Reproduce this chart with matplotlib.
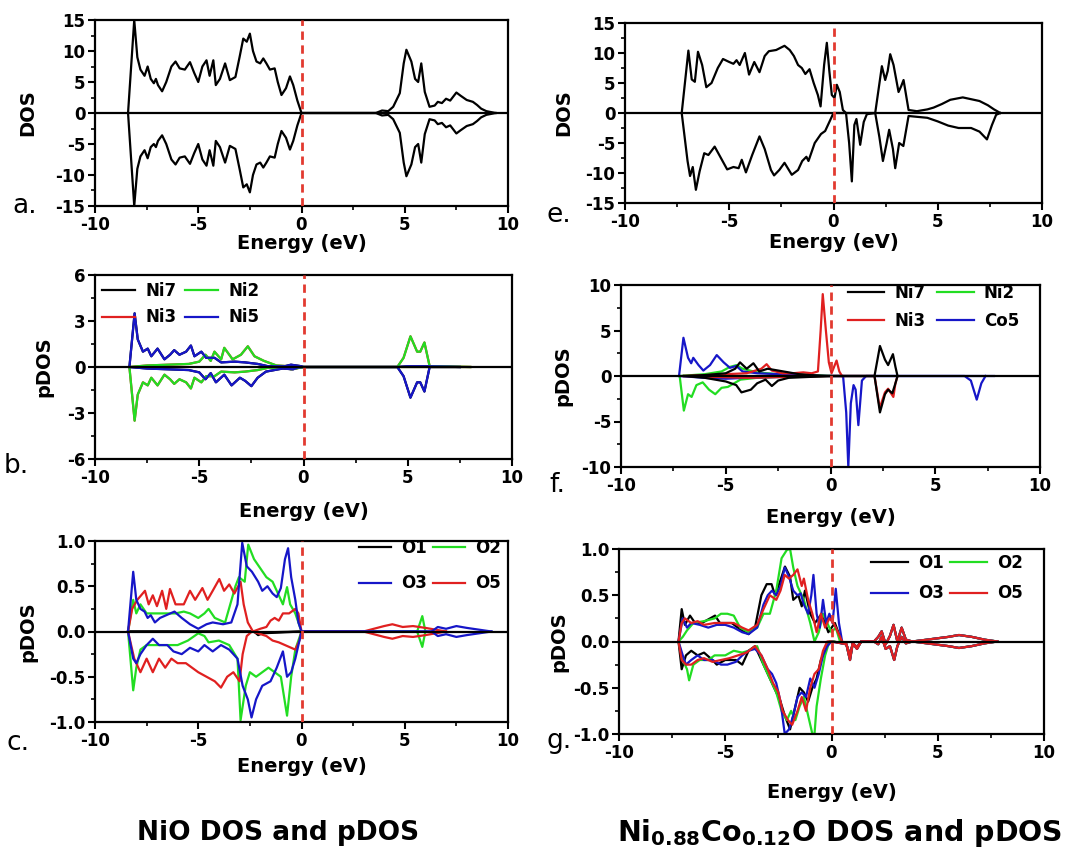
import matplotlib
matplotlib.use("Agg")
import matplotlib.pyplot as plt
import numpy as np
from matplotlib.ticker import MultipleLocator, FormatStrFormatter

plt.rcParams["font.family"] = "DejaVu Sans"
plt.rcParams["font.weight"] = "bold"
plt.rcParams["axes.labelweight"] = "bold"
plt.rcParams["axes.unicode_minus"] = False
plt.rcParams["mathtext.fontset"] = "custom"
plt.rcParams["mathtext.bf"] = "DejaVu Sans:bold"
plt.rcParams["mathtext.default"] = "bf"

GREEN = "#22dd22"
BLUE = "#1616c8"
RED = "#e02020"
BLACK = "black"

# ---- panel a: NiO total DOS (energy, DOS) ----
a_up = [(-8.4, 0), (-8.1, 15), (-7.95, 9), (-7.8, 7), (-7.6, 6), (-7.45, 7.5), (-7.3, 5.5),
        (-7.15, 4.8), (-7.05, 5.5), (-6.95, 4.5), (-6.75, 3.5), (-6.55, 5), (-6.3, 7.5),
        (-6.1, 8.3), (-5.9, 7.2), (-5.65, 7), (-5.4, 8.2), (-5.2, 6.5), (-5.0, 5), (-4.8, 7.5),
        (-4.6, 8.5), (-4.45, 6), (-4.27, 8.5), (-4.15, 4.5), (-3.95, 5.5), (-3.7, 8), (-3.47, 5.3),
        (-3.2, 5.8), (-3.0, 9), (-2.82, 12), (-2.65, 11.5), (-2.5, 12.8), (-2.35, 10), (-2.18, 8.3),
        (-2.0, 8), (-1.85, 8.8), (-1.7, 8), (-1.53, 7), (-1.3, 7.2), (-1.15, 5), (-0.97, 2.9),
        (-0.75, 4), (-0.56, 5.9), (-0.4, 4.5), (-0.2, 2), (0.0, 0), (3.6, 0), (3.9, 0.4), (4.2, 0.3),
        (4.44, 1.0), (4.76, 3.2), (4.95, 8), (5.08, 10.2), (5.32, 8.3), (5.5, 5.5), (5.65, 5),
        (5.8, 8), (5.97, 3.4), (6.2, 1), (6.45, 1.2), (6.6, 1.8), (6.8, 1.6), (7.0, 2.3), (7.2, 2.0),
        (7.5, 3.3), (7.7, 2.8), (8.0, 2.1), (8.3, 1.8), (8.5, 1.3), (8.7, 0.7), (8.95, 0.3), (9.4, 0)]
a_dn = [(-8.4, 0), (-8.1, -15), (-7.95, -9), (-7.8, -7), (-7.6, -6), (-7.45, -7.3), (-7.3, -5.5),
        (-7.15, -5), (-7.05, -5.5), (-6.95, -4.5), (-6.75, -3.6), (-6.55, -5), (-6.3, -7.5),
        (-6.1, -8.3), (-5.9, -7.2), (-5.65, -7), (-5.4, -8.2), (-5.2, -6.5), (-5.0, -5), (-4.8, -7.5),
        (-4.6, -8.5), (-4.45, -6), (-4.27, -8.5), (-4.15, -4.5), (-3.95, -5.5), (-3.7, -8),
        (-3.47, -5.3), (-3.2, -5.8), (-3.0, -9), (-2.82, -12), (-2.65, -11.5), (-2.5, -12.8),
        (-2.35, -10), (-2.18, -8.3), (-2.0, -8), (-1.85, -8.8), (-1.7, -8), (-1.53, -7), (-1.3, -7.2),
        (-1.15, -5), (-0.97, -2.9), (-0.75, -4), (-0.56, -5.9), (-0.4, -4.5), (-0.2, -2), (0.0, 0),
        (3.6, 0), (3.9, -0.4), (4.2, -0.3), (4.44, -1.0), (4.76, -3.2), (4.95, -8), (5.08, -10.2),
        (5.32, -8.3), (5.5, -5.5), (5.65, -5), (5.8, -8), (5.97, -3.4), (6.2, -1), (6.45, -1.2),
        (6.6, -1.8), (6.8, -1.6), (7.0, -2.3), (7.2, -2.0), (7.5, -3.3), (7.7, -2.8), (8.0, -2.1),
        (8.3, -1.8), (8.5, -1.3), (8.7, -0.7), (8.95, -0.3), (9.4, 0)]

# ---- panel e: Ni0.88Co0.12O total DOS ----
e_up = [(-7.28, 0), (-6.96, 10.4), (-6.8, 5.6), (-6.65, 5.2), (-6.5, 10.2), (-6.3, 8), (-6.1, 4.3),
        (-5.85, 5), (-5.55, 7.5), (-5.3, 9), (-5.0, 8.5), (-4.8, 8.2), (-4.65, 8.8), (-4.5, 8),
        (-4.25, 10), (-4.05, 6.4), (-3.8, 8.5), (-3.55, 6.8), (-3.3, 9.5), (-3.1, 10.3), (-2.75, 10.5),
        (-2.35, 11.2), (-2.1, 10.5), (-1.9, 9.5), (-1.7, 8), (-1.52, 7.5), (-1.35, 6.5), (-1.15, 7.3),
        (-0.95, 5), (-0.75, 3), (-0.62, 1.1), (-0.45, 8), (-0.32, 11.7), (-0.2, 7), (-0.08, 3),
        (0.05, 2.5), (0.16, 4.7), (0.3, 3.5), (0.45, 0.5), (0.6, 0), (2.0, 0), (2.32, 7.8),
        (2.48, 5.5), (2.6, 7), (2.72, 9.8), (2.88, 8), (3.12, 3.5), (3.25, 4.5), (3.36, 5.5),
        (3.6, 0.5), (4.0, 0.3), (4.5, 0.6), (4.8, 0.9), (5.2, 1.5), (5.6, 2.2), (6.2, 2.6),
        (6.6, 2.3), (7.0, 2.0), (7.4, 1.3), (7.7, 0.6), (8.0, 0)]
e_dn = [(-7.28, 0), (-7.0, -8), (-6.88, -10.5), (-6.75, -9), (-6.6, -12.8), (-6.42, -9.7),
        (-6.2, -6.7), (-6.0, -7), (-5.7, -5.6), (-5.4, -7.5), (-5.1, -9.4), (-4.8, -9), (-4.55, -9.2),
        (-4.4, -7.8), (-4.2, -9.9), (-3.9, -7), (-3.55, -3.9), (-3.3, -6), (-3.0, -9.5), (-2.85, -10.4),
        (-2.6, -9.5), (-2.35, -8.3), (-2.0, -10.3), (-1.7, -9.5), (-1.5, -8), (-1.3, -7.3), (-1.2, -8),
        (-0.9, -5), (-0.6, -3.5), (-0.4, -3), (-0.2, -1.5), (0.0, 0), (0.6, 0), (0.75, -5),
        (0.88, -11.4), (1.0, -2), (1.1, -1), (1.28, -5.3), (1.45, -1.5), (1.6, -0.2), (2.0, 0),
        (2.2, -4), (2.37, -8), (2.55, -5), (2.67, -2.8), (2.85, -6), (2.96, -9.2), (3.15, -5),
        (3.35, -5.5), (3.6, -0.5), (4.5, -0.8), (5.0, -1.4), (5.5, -2.1), (6.0, -2.5), (6.6, -2.5),
        (7.0, -3.1), (7.36, -4.4), (7.6, -2), (7.8, -0.3), (8.0, 0)]

# ---- panel b: NiO Ni pDOS ----
b_ni5_up = [(-8.35, 0), (-8.1, 3.5), (-7.95, 1.8), (-7.7, 1.0), (-7.47, 1.2), (-7.3, 0.7), (-7.0, 1.2),
            (-6.67, 0.5), (-6.4, 0.8), (-6.2, 1.1), (-5.95, 0.8), (-5.63, 1.0), (-5.4, 1.4),
            (-5.23, 0.7), (-4.9, 1.0), (-4.67, 0.6), (-4.27, 0.6), (-3.95, 0.3), (-3.3, 0.35),
            (-2.8, 0.3), (-2.2, 0.2), (-1.7, 0.05), (-0.9, 0.05), (-0.6, 0.15), (-0.1, 0.05),
            (0.0, 0), (4.5, 0), (5.0, 0.05), (6.0, 0.05), (7.5, 0)]
b_ni5_dn = [(-8.35, 0), (-7.5, -0.1), (-6.5, -0.15), (-5.5, -0.2), (-5.0, -0.35), (-4.7, -0.8),
            (-4.45, -0.4), (-4.2, -1.0), (-3.8, -0.5), (-3.45, -1.2), (-3.05, -0.7), (-2.8, -0.9),
            (-2.5, -1.25), (-2.2, -0.7), (-1.8, -0.3), (-1.0, -0.1), (-0.5, -0.15), (-0.3, -0.05),
            (0.0, 0), (4.5, 0), (4.8, -0.6), (5.13, -2.0), (5.45, -1.0), (5.6, -1.0), (5.8, -1.6),
            (6.05, 0), (7.5, 0)]
b_ni2_up = [(-8.35, 0), (-7.5, 0.1), (-6.5, 0.15), (-5.5, 0.2), (-5.0, 0.35), (-4.7, 0.8),
            (-4.45, 0.4), (-4.27, 1.0), (-3.95, 0.5), (-3.8, 1.25), (-3.4, 0.5), (-3.0, 0.8),
            (-2.67, 1.35), (-2.35, 0.7), (-1.9, 0.4), (-1.3, 0.1), (-0.7, 0.05), (-0.4, -0.1),
            (0.0, 0), (4.5, 0), (4.8, 0.6), (5.13, 2.0), (5.45, 1.0), (5.6, 1.0), (5.8, 1.6),
            (6.05, 0.05), (7.0, 0.03), (8.0, 0)]
b_ni2_dn = [(-8.35, 0), (-8.1, -3.5), (-7.95, -1.8), (-7.7, -1.0), (-7.47, -1.2), (-7.3, -0.7),
            (-7.0, -1.2), (-6.67, -0.5), (-6.4, -0.8), (-6.2, -1.1), (-5.95, -0.8), (-5.63, -1.0),
            (-5.4, -1.4), (-5.23, -0.7), (-4.9, -1.0), (-4.67, -0.6), (-4.27, -0.6), (-3.95, -0.3),
            (-3.3, -0.35), (-2.8, -0.3), (-2.2, -0.2), (-1.7, -0.05), (-0.9, -0.05), (-0.6, -0.15),
            (0.0, 0), (8.0, 0)]

# ---- panel f: Ni0.88Co0.12O metal pDOS ----
f_co5_up = [(-7.23, 0), (-7.02, 4.2), (-6.8, 2.0), (-6.65, 1.4), (-6.55, 2.0), (-6.3, 1.2),
            (-6.07, 0.6), (-5.75, 1.2), (-5.43, 2.3), (-5.1, 1.5), (-4.8, 0.9), (-4.5, 1.1),
            (-4.2, 0.5), (-3.5, 0.3), (-2.5, 0.2), (-1.0, 0.1), (-0.5, 0), (7.8, 0)]
f_co5_dn = [(-7.23, 0), (-6.0, -0.2), (-5.0, -0.3), (-4.0, -0.2), (-0.5, 0), (0.6, 0), (0.75, -4),
            (0.85, -10), (0.97, -3), (1.1, -1), (1.2, -1.5), (1.33, -5.4), (1.5, -0.5), (1.7, 0),
            (6.4, 0), (6.7, -0.5), (6.98, -2.6), (7.2, -0.8), (7.4, 0)]
f_ni2_up = [(-7.2, 0), (-6.0, 0.2), (-5.2, 0.5), (-4.8, 1.0), (-4.48, 1.2), (-4.2, 0.8), (-3.5, 0.4),
            (-2.5, 0.2), (-1.5, 0.2), (-1.0, 0.1), (0.0, 0)]
f_ni2_dn = [(-7.2, 0), (-7.0, -3.8), (-6.8, -2.0), (-6.63, -2.3), (-6.4, -1.0), (-6.1, -0.7),
            (-5.8, -1.5), (-5.5, -2.0), (-5.2, -1.3), (-4.9, -1.2), (-4.6, -0.8), (-4.3, -0.4),
            (-3.5, -0.2), (-2.5, -0.1), (-1.0, -0.05), (0.0, 0)]
f_ni3_up = [(-7.0, 0), (-5.0, 0.2), (-4.0, 0.3), (-3.3, 0.8), (-3.05, 1.3), (-2.8, 0.6), (-2.3, 0.3),
            (-1.8, 0.3), (-1.3, 0.4), (-0.9, 0.3), (-0.6, 0.5), (-0.47, 5), (-0.37, 9.0),
            (-0.22, 5), (-0.08, 1.5), (0.05, 0.3), (0.29, 1.7), (0.42, 0.5), (0.55, 0)]
f_ni3_dn = [(-7.0, 0), (-4.0, -0.2), (-2.0, -0.1), (0.0, 0), (2.1, 0), (2.35, -3.5), (2.6, -1.8),
            (2.75, -1.4), (3.0, -2.3), (3.1, -0.8), (3.2, 0)]
f_ni7_up = [(-7.0, 0), (-6.0, 0.1), (-5.0, 0.3), (-4.55, 0.8), (-4.32, 1.5), (-4.0, 0.8),
            (-3.68, 1.4), (-3.4, 0.5), (-3.0, 0.8), (-2.5, 0.6), (-2.0, 0.4), (-1.5, 0.2),
            (-1.0, 0.1), (0.0, 0), (2.1, 0), (2.36, 3.3), (2.6, 1.8), (2.75, 1.2), (2.98, 2.4),
            (3.1, 1.0), (3.2, 0)]
f_ni7_dn = [(-7.0, 0), (-6.0, -0.2), (-5.0, -0.6), (-4.5, -1.0), (-4.25, -1.8), (-3.8, -1.5),
            (-3.5, -0.8), (-3.1, -0.4), (-2.8, -1.1), (-2.5, -0.5), (-2.0, -0.2), (-1.0, -0.1),
            (0.0, 0), (2.1, 0), (2.36, -4.0), (2.6, -2.0), (2.75, -1.5), (2.95, -1.9), (3.1, -0.8),
            (3.2, 0)]

# ---- panel c: NiO O pDOS ----
c_o1_up = [(-8.4, 0), (-2.3, 0), (-2.1, -0.04), (-1.9, -0.02), (0.0, 0), (3.0, 0)]
c_o1_dn = [(-8.4, 0), (-2.3, 0), (-2.1, -0.03), (-1.9, -0.01), (0.0, 0), (3.0, 0)]
c_o2_up = [(-8.4, 0), (-8.15, 0.35), (-8.0, 0.2), (-7.8, 0.3), (-7.5, 0.2), (-7.0, 0.2), (-6.5, 0.2),
           (-6.1, 0.2), (-5.7, 0.22), (-5.4, 0.2), (-5.0, 0.15), (-4.7, 0.2), (-4.5, 0.25),
           (-4.2, 0.15), (-3.7, 0.1), (-3.2, 0.5), (-3.03, 0.6), (-2.75, 0.55), (-2.58, 0.96),
           (-2.3, 0.8), (-2.0, 0.7), (-1.7, 0.6), (-1.4, 0.55), (-1.1, 0.4), (-0.9, 0.3), (-0.7, 0.49),
           (-0.55, 0.3), (-0.3, 0.2), (0.0, 0), (5.6, 0), (5.85, 0.17), (6.0, 0)]
c_o2_dn = [(-8.4, 0), (-8.15, -0.65), (-8.0, -0.4), (-7.8, -0.2), (-7.5, -0.15), (-7.0, -0.15),
           (-6.5, -0.15), (-6.0, -0.15), (-5.5, -0.1), (-5.0, -0.02), (-4.7, -0.05), (-4.5, -0.12),
           (-4.0, -0.1), (-3.5, -0.15), (-3.1, -0.3), (-2.95, -0.98), (-2.7, -0.6), (-2.5, -0.45),
           (-2.2, -0.5), (-1.9, -0.45), (-1.6, -0.4), (-1.3, -0.45), (-1.0, -0.5), (-0.7, -0.93),
           (-0.5, -0.5), (-0.3, -0.2), (0.0, 0), (5.6, 0), (5.85, -0.17), (6.0, 0)]
c_o3_up = [(-8.4, 0), (-8.15, 0.66), (-8.0, 0.35), (-7.8, 0.25), (-7.6, 0.22), (-7.45, 0.15),
           (-7.3, 0.18), (-7.1, 0.1), (-6.85, 0.15), (-6.55, 0.18), (-6.15, 0.22), (-5.8, 0.15),
           (-5.4, 0.08), (-5.0, 0.03), (-4.6, 0.08), (-4.3, 0.1), (-3.8, 0.08), (-3.4, 0.1),
           (-3.1, 0.3), (-2.87, 0.98), (-2.65, 0.72), (-2.4, 0.66), (-2.1, 0.55), (-1.9, 0.45),
           (-1.65, 0.5), (-1.4, 0.42), (-1.2, 0.38), (-1.0, 0.48), (-0.8, 0.8), (-0.65, 0.92),
           (-0.5, 0.6), (-0.3, 0.35), (-0.15, 0.1), (0.0, 0), (6.3, 0), (6.6, 0.05), (7.0, 0.03),
           (7.5, 0.06), (8.0, 0.04), (8.6, 0.02), (9.2, 0)]
c_o3_dn = [(-8.4, 0), (-8.15, -0.3), (-8.0, -0.35), (-7.8, -0.25), (-7.5, -0.15), (-7.2, -0.08),
           (-6.9, -0.15), (-6.5, -0.15), (-6.2, -0.22), (-5.8, -0.25), (-5.4, -0.18), (-5.0, -0.22),
           (-4.7, -0.15), (-4.3, -0.22), (-3.9, -0.15), (-3.5, -0.2), (-3.1, -0.3), (-2.85, -0.6),
           (-2.6, -0.75), (-2.42, -0.95), (-2.2, -0.75), (-1.9, -0.6), (-1.5, -0.55), (-1.2, -0.4),
           (-0.9, -0.22), (-0.7, -0.5), (-0.5, -0.45), (-0.3, -0.3), (0.0, 0), (6.3, 0),
           (6.6, -0.05), (7.0, -0.03), (7.5, -0.06), (8.0, -0.04), (8.6, -0.02), (9.2, 0)]
c_o5_up = [(-8.4, 0), (-8.2, 0.25), (-7.95, 0.35), (-7.58, 0.45), (-7.4, 0.3), (-7.2, 0.4),
           (-7.0, 0.28), (-6.75, 0.45), (-6.55, 0.25), (-6.37, 0.47), (-6.1, 0.3), (-5.7, 0.3),
           (-5.4, 0.45), (-5.15, 0.35), (-4.8, 0.48), (-4.55, 0.35), (-4.3, 0.45), (-3.98, 0.58),
           (-3.75, 0.45), (-3.5, 0.52), (-3.25, 0.42), (-2.95, 0.55), (-2.8, 0.3), (-2.6, 0.1),
           (-2.35, 0.0), (-2.0, 0.03), (-1.7, 0.05), (-1.5, 0.12), (-1.3, 0.15), (-1.1, 0.12),
           (-0.9, 0.2), (-0.6, 0.2), (-0.3, 0.25), (-0.15, 0.2), (0.0, 0), (3.0, 0), (3.5, 0.03),
           (4.0, 0.06), (4.4, 0.08), (4.9, 0.05), (5.4, 0.06), (6.0, 0.04), (6.5, 0.02), (7.0, 0)]
c_o5_dn = [(-8.4, 0), (-8.1, -0.3), (-7.8, -0.45), (-7.5, -0.3), (-7.2, -0.45), (-6.9, -0.3),
           (-6.6, -0.4), (-6.3, -0.3), (-6.0, -0.35), (-5.6, -0.35), (-5.3, -0.4), (-5.0, -0.45),
           (-4.6, -0.5), (-4.2, -0.55), (-3.9, -0.62), (-3.6, -0.5), (-3.3, -0.45), (-3.0, -0.55),
           (-2.85, -0.25), (-2.65, -0.05), (-2.4, 0.0), (-2.1, -0.02), (-1.7, -0.05), (-1.4, -0.1),
           (-1.1, -0.12), (-0.8, -0.15), (-0.5, -0.18), (-0.3, -0.2), (-0.1, -0.1), (0.0, 0),
           (3.0, 0), (3.5, -0.03), (4.0, -0.06), (4.4, -0.08), (4.9, -0.05), (5.4, -0.06),
           (6.0, -0.04), (6.5, -0.02), (7.0, 0)]

# ---- panel g: Ni0.88Co0.12O O pDOS ----
g_tail_up = [(0.7, -0.03), (0.87, -0.2), (1.0, -0.02), (1.2, -0.08), (1.4, 0.0), (2.0, 0.0),
             (2.2, 0.05), (2.36, 0.11), (2.55, -0.03), (2.75, 0.06), (2.92, 0.18), (3.1, 0.0),
             (3.3, 0.15), (3.5, 0.02), (3.8, 0.0), (4.5, 0.02), (5.5, 0.05), (6.0, 0.07),
             (6.6, 0.05), (7.2, 0.02), (7.8, 0.0)]
g_tail_dn = [(0.7, -0.03), (0.87, -0.15), (1.0, -0.02), (1.2, -0.06), (1.4, 0.0), (2.0, 0.0),
             (2.2, -0.03), (2.36, 0.05), (2.55, -0.08), (2.75, -0.05), (2.95, -0.2), (3.1, -0.05),
             (3.3, 0.05), (3.5, -0.02), (3.8, 0.0), (4.5, -0.02), (5.5, -0.05), (6.0, -0.07),
             (6.6, -0.05), (7.2, -0.02), (7.8, 0.0)]
g_o1_up = [(-7.2, 0), (-7.05, 0.35), (-6.9, 0.18), (-6.66, 0.28), (-6.42, 0.2), (-6.1, 0.2),
           (-5.48, 0.28), (-5.25, 0.2), (-4.7, 0.2), (-4.23, 0.12), (-3.9, 0.08), (-3.6, 0.15),
           (-3.3, 0.5), (-3.05, 0.62), (-2.82, 0.62), (-2.66, 0.5), (-2.42, 0.65), (-2.19, 0.81),
           (-1.95, 0.7), (-1.8, 0.45), (-1.56, 0.5), (-1.4, 0.38), (-1.25, 0.55), (-1.0, 0.3),
           (-0.78, 0.2), (-0.46, 0.3), (-0.15, 0.1), (0.16, 0.2), (0.48, 0)]
g_o2_up = [(-7.2, 0), (-7.0, 0.05), (-6.8, 0.12), (-6.5, 0.2), (-6.0, 0.22), (-5.5, 0.25),
           (-5.2, 0.3), (-4.9, 0.3), (-4.6, 0.28), (-4.3, 0.15), (-3.9, 0.1), (-3.5, 0.15),
           (-3.2, 0.3), (-2.9, 0.3), (-2.6, 0.55), (-2.35, 0.9), (-2.1, 0.99), (-1.95, 1.0),
           (-1.8, 0.8), (-1.6, 0.6), (-1.3, 0.45), (-1.0, 0.2), (-0.8, 0.0), (-0.6, 0.1), (-0.4, 0.3),
           (-0.2, 0.2), (0.0, 0.1), (0.2, 0.15), (0.4, 0.0)]
g_o3_up = [(-7.2, 0), (-7.0, 0.25), (-6.8, 0.15), (-6.6, 0.2), (-6.2, 0.18), (-5.8, 0.15),
           (-5.4, 0.18), (-5.0, 0.18), (-4.6, 0.15), (-4.2, 0.1), (-3.9, 0.08), (-3.5, 0.15),
           (-3.2, 0.4), (-3.0, 0.5), (-2.8, 0.55), (-2.6, 0.5), (-2.4, 0.6), (-2.2, 0.8), (-2.0, 0.7),
           (-1.8, 0.55), (-1.6, 0.5), (-1.45, 0.52), (-1.3, 0.4), (-1.1, 0.3), (-0.95, 0.5),
           (-0.85, 0.72), (-0.7, 0.3), (-0.55, 0.15), (-0.4, 0.45), (-0.25, 0.2), (-0.1, 0.3),
           (0.05, 0.2), (0.2, 0.57), (0.35, 0.2), (0.5, 0)]
g_o5_up = [(-7.2, 0), (-7.05, 0.2), (-6.9, 0.25), (-6.6, 0.2), (-6.3, 0.22), (-6.0, 0.18),
           (-5.5, 0.2), (-5.0, 0.2), (-4.6, 0.2), (-4.2, 0.15), (-3.9, 0.12), (-3.5, 0.18),
           (-3.2, 0.35), (-2.9, 0.5), (-2.6, 0.45), (-2.4, 0.55), (-2.2, 0.72), (-2.0, 0.68),
           (-1.8, 0.72), (-1.6, 0.78), (-1.4, 0.6), (-1.3, 0.68), (-1.1, 0.45), (-0.9, 0.3),
           (-0.7, 0.1), (-0.5, 0.3), (-0.3, 0.15), (-0.1, 0.25), (0.1, 0.2), (0.3, 0.1), (0.5, 0)]
g_o1_dn = [(-7.2, 0), (-7.05, -0.3), (-6.85, -0.15), (-6.6, -0.1), (-6.3, -0.15), (-6.0, -0.12),
           (-5.6, -0.2), (-5.4, -0.25), (-5.0, -0.2), (-4.5, -0.2), (-4.2, -0.25), (-3.9, -0.1),
           (-3.6, -0.05), (-3.3, -0.2), (-3.0, -0.35), (-2.7, -0.5), (-2.4, -0.65), (-2.2, -0.8),
           (-1.95, -0.95), (-1.7, -0.7), (-1.5, -0.5), (-1.3, -0.55), (-1.1, -0.65), (-0.9, -0.5),
           (-0.7, -0.4), (-0.5, -0.2), (-0.3, -0.1), (-0.1, 0.0), (0.1, 0)]
g_o2_dn = [(-7.2, 0), (-7.0, -0.2), (-6.8, -0.3), (-6.7, -0.42), (-6.5, -0.25), (-6.2, -0.2),
           (-5.8, -0.2), (-5.5, -0.15), (-5.0, -0.15), (-4.6, -0.1), (-4.2, -0.12), (-3.9, -0.1),
           (-3.5, -0.05), (-3.2, -0.25), (-2.9, -0.4), (-2.6, -0.55), (-2.35, -0.75), (-2.1, -0.85),
           (-1.9, -0.75), (-1.7, -0.85), (-1.5, -0.7), (-1.3, -0.6), (-1.1, -0.8), (-0.9, -1.0),
           (-0.8, -1.0), (-0.7, -0.7), (-0.5, -0.4), (-0.3, -0.15), (-0.1, 0.0), (0.1, 0)]
g_o3_dn = [(-7.2, 0), (-7.0, -0.15), (-6.85, -0.25), (-6.6, -0.2), (-6.3, -0.15), (-6.0, -0.2),
           (-5.6, -0.2), (-5.2, -0.25), (-4.9, -0.25), (-4.5, -0.22), (-4.2, -0.15), (-3.9, -0.1),
           (-3.6, -0.08), (-3.3, -0.15), (-3.0, -0.3), (-2.8, -0.35), (-2.6, -0.45), (-2.4, -0.65),
           (-2.2, -1.0), (-2.0, -0.95), (-1.8, -0.8), (-1.6, -0.6), (-1.4, -0.55), (-1.2, -0.6),
           (-1.0, -0.4), (-0.8, -0.5), (-0.6, -0.35), (-0.4, -0.15), (-0.2, -0.05), (0.0, 0)]
g_o5_dn = [(-7.2, 0), (-7.05, -0.2), (-6.85, -0.25), (-6.6, -0.25), (-6.3, -0.2), (-6.0, -0.18),
           (-5.6, -0.22), (-5.2, -0.2), (-4.8, -0.18), (-4.4, -0.15), (-4.0, -0.12), (-3.6, -0.05),
           (-3.3, -0.15), (-3.0, -0.3), (-2.75, -0.45), (-2.5, -0.55), (-2.3, -0.75), (-2.05, -0.85),
           (-1.85, -0.9), (-1.6, -0.75), (-1.4, -0.6), (-1.2, -0.75), (-1.0, -0.5), (-0.8, -0.35),
           (-0.6, -0.3), (-0.4, -0.1), (-0.2, 0.0), (0.0, 0)]

W, H = 1089, 859
fig = plt.figure(figsize=(W / 100, H / 100), dpi=100)


def make_axes(left, top, right, bottom):
    ax = fig.add_axes([left / W, 1 - bottom / H, (right - left) / W, (bottom - top) / H])
    for s in ax.spines.values():
        s.set_linewidth(1.6)
    ax.tick_params(which="major", direction="out", length=5, width=1.5, labelsize=12, pad=2)
    ax.tick_params(which="minor", direction="out", length=3, width=1.2)
    ax.set_xlim(-10, 10)
    ax.xaxis.set_major_locator(MultipleLocator(5))
    ax.xaxis.set_minor_locator(MultipleLocator(2.5))
    ax.axhline(0, color="black", lw=1.6, zorder=4)
    ax.axvline(0, color="#e23a30", lw=2, dashes=(3, 2), zorder=5)
    return ax


def draw(ax, pts, color, label=None, lw=1.6):
    x, y = np.array(pts, dtype=float).T
    return ax.plot(x, y, color=color, lw=lw, label=label)[0]


def finish(ax, ylabel, ylab_right, xlab_center, box):
    left, top, right, bottom = box
    ax.set_xlabel("Energy (eV)", fontsize=14)
    ax.xaxis.set_label_coords(0.5, -(xlab_center - 10 - bottom) / (bottom - top))
    ax.set_ylabel(ylabel, fontsize=14)
    ax.yaxis.set_label_coords(-(left - ylab_right) / (right - left), 0.5)


def legend_at(ax, handles, box, x_px, y_top_px, loc, spacing, hlen=1.9, colsp=0.4):
    left, top, right, bottom = box
    anchor = ((x_px - left) / (right - left), (bottom - y_top_px) / (bottom - top))
    ax.legend(handles=handles, loc=loc, bbox_to_anchor=anchor, ncol=2, frameon=False,
              fontsize=12, handlelength=hlen, handletextpad=0.6, columnspacing=colsp,
              labelspacing=spacing, borderaxespad=0, borderpad=0)


# a
box = (95, 20, 508, 206)
ax = make_axes(*box)
draw(ax, a_up, BLACK)
draw(ax, a_dn, BLACK)
ax.set_ylim(-15, 15)
ax.yaxis.set_major_locator(MultipleLocator(5))
ax.yaxis.set_minor_locator(MultipleLocator(2.5))
finish(ax, "DOS", 37, 244, box)

# e
box = (625, 23, 1042, 203)
ax = make_axes(*box)
draw(ax, e_up, BLACK)
draw(ax, e_dn, BLACK)
ax.set_ylim(-15, 15)
ax.yaxis.set_major_locator(MultipleLocator(5))
ax.yaxis.set_minor_locator(MultipleLocator(2.5))
finish(ax, "DOS", 573, 243, box)

# b
box = (95, 275, 512, 459)
ax = make_axes(*box)
h7 = draw(ax, b_ni5_up, BLACK, "Ni7")
draw(ax, b_ni5_dn, BLACK)
h3 = draw(ax, b_ni2_up, RED, "Ni3")
draw(ax, b_ni2_dn, RED)
h2 = draw(ax, b_ni2_up, GREEN, "Ni2")
draw(ax, b_ni2_dn, GREEN)
h5 = draw(ax, b_ni5_up, BLUE, "Ni5")
draw(ax, b_ni5_dn, BLUE)
ax.set_ylim(-6, 6)
ax.yaxis.set_major_locator(MultipleLocator(3))
ax.yaxis.set_minor_locator(MultipleLocator(1.5))
legend_at(ax, [h7, h3, h2, h5], box, 102, 282, "upper left", 0.5, hlen=2.0, colsp=0.5)
finish(ax, "pDOS", 53, 512, box)

# f
box = (621, 285, 1040, 467)
ax = make_axes(*box)
h2 = draw(ax, f_ni2_up, GREEN, "Ni2")
draw(ax, f_ni2_dn, GREEN)
h5 = draw(ax, f_co5_up, BLUE, "Co5")
draw(ax, f_co5_dn, BLUE)
h3 = draw(ax, f_ni3_up, RED, "Ni3")
draw(ax, f_ni3_dn, RED)
h7 = draw(ax, f_ni7_up, BLACK, "Ni7")
draw(ax, f_ni7_dn, BLACK)
ax.set_ylim(-10, 10)
ax.yaxis.set_major_locator(MultipleLocator(5))
ax.yaxis.set_minor_locator(MultipleLocator(2.5))
legend_at(ax, [h7, h3, h2, h5], box, 1019, 284, "upper right", 0.57, hlen=2.2, colsp=0.7)
finish(ax, "pDOS", 572, 518, box)

# c
box = (95, 541, 508, 722)
ax = make_axes(*box)
h1 = draw(ax, c_o1_up, BLACK, "O1")
draw(ax, c_o1_dn, BLACK)
h2 = draw(ax, c_o2_up, GREEN, "O2")
draw(ax, c_o2_dn, GREEN)
h5 = draw(ax, c_o5_up, RED, "O5")
draw(ax, c_o5_dn, RED)
h3 = draw(ax, c_o3_up, BLUE, "O3")
draw(ax, c_o3_dn, BLUE)
ax.set_ylim(-1, 1)
ax.yaxis.set_major_locator(MultipleLocator(0.5))
ax.yaxis.set_minor_locator(MultipleLocator(0.25))
ax.yaxis.set_major_formatter(FormatStrFormatter("%.1f"))
legend_at(ax, [h1, h3, h2, h5], box, 501, 539, "upper right", 1.05)
finish(ax, "pDOS", 37, 767, box)

# g
box = (619, 549, 1044, 734)
ax = make_axes(*box)
handles = {}
for up, dn, col, lab in [(g_o1_up, g_o1_dn, BLACK, "O1"), (g_o2_up, g_o2_dn, GREEN, "O2"),
                         (g_o3_up, g_o3_dn, BLUE, "O3"), (g_o5_up, g_o5_dn, RED, "O5")]:
    handles[lab] = draw(ax, up + g_tail_up, col, lab)
    draw(ax, dn + g_tail_dn, col)
ax.set_ylim(-1, 1)
ax.yaxis.set_major_locator(MultipleLocator(0.5))
ax.yaxis.set_minor_locator(MultipleLocator(0.25))
ax.yaxis.set_major_formatter(FormatStrFormatter("%.1f"))
legend_at(ax, [handles["O1"], handles["O3"], handles["O2"], handles["O5"]], box,
          1023, 554, "upper right", 0.75, hlen=2.2)
finish(ax, "pDOS", 568, 793, box)

# panel letters
for lab, x, y in [("a.", 12, 213), ("b.", 4, 473), ("c.", 7, 750),
                  ("e.", 546, 222), ("f.", 549, 492), ("g.", 546, 748)]:
    fig.text(x / W, 1 - y / H, lab, fontsize=19, fontweight="normal", ha="left", va="baseline")

fig.text(278 / W, 1 - 833 / H, "NiO DOS and pDOS", fontsize=19, fontweight="bold",
         ha="center", va="center")
fig.text(840 / W, 1 - 833 / H, "Ni$_{0.88}$Co$_{0.12}$O DOS and pDOS", fontsize=20.5,
         fontweight="bold", ha="center", va="center")

fig.savefig("out.png", dpi=100)
